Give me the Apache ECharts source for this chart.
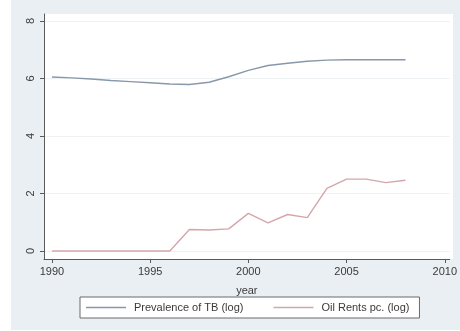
<!DOCTYPE html>
<html>
<head>
<meta charset="utf-8">
<script src="https://cdn.jsdelivr.net/npm/echarts@6/dist/echarts.min.js"></script>
<style>
  html, body { margin: 0; padding: 0; background: #ffffff; }
  #chart { width: 460px; height: 331px; }
</style>
</head>
<body>
<div id="chart"></div>
<script>
// Years of observation
const years = [1990, 1991, 1992, 1993, 1994, 1995, 1996, 1997, 1998, 1999,
               2000, 2001, 2002, 2003, 2004, 2005, 2006, 2007, 2008];
// Prevalence of TB (log)
const tbPrevalence = [6.05, 6.02, 5.98, 5.93, 5.89, 5.85, 5.81, 5.79, 5.87, 6.06,
                      6.28, 6.45, 6.53, 6.60, 6.64, 6.65, 6.65, 6.65, 6.65];
// Oil rents per capita (log)
const oilRents = [0, 0, 0, 0, 0, 0, 0, 0.75, 0.73, 0.77,
                  1.31, 0.98, 1.27, 1.16, 2.18, 2.50, 2.50, 2.38, 2.46];
// Axis ticks
const xTicks = [1990, 1995, 2000, 2005, 2010];
const yTicks = [0, 2, 4, 6, 8];
const seriesNames = ['Prevalence of TB (log)', 'Oil Rents pc. (log)'];

const pairs = (vals) => years.map((y, i) => [y, vals[i]]);
const textColor = '#3a3a3a';
const axisColor = '#5a5a5a';
const tbColor = '#8898aa';
const oilColor = '#d4a6aa';

const chart = echarts.init(document.getElementById('chart'), null, { renderer: 'canvas' });
chart.setOption({
  backgroundColor: '#ffffff',
  animation: false,
  graphic: [{
    type: 'rect',
    z: -10,
    silent: true,
    shape: { x: 11, y: 0, width: 449, height: 330 },
    style: { fill: '#e9eff3' }
  }, {
    type: 'rect',
    z: -9,
    silent: true,
    shape: { x: 44, y: 14, width: 409, height: 245 },
    style: { fill: '#ffffff' }
  }],
  grid: { left: 44, top: 14, width: 409, height: 245, containLabel: false },
  xAxis: {
    type: 'value',
    min: 1989.596,
    max: 2010.25,
    name: 'year',
    nameLocation: 'middle',
    nameGap: 26,
    nameTextStyle: { color: textColor, fontSize: 11, fontFamily: 'Liberation Sans, Arial, sans-serif' },
    axisLine: { show: true, onZero: false, lineStyle: { color: axisColor, width: 1 } },
    axisTick: { show: true, length: 4, customValues: xTicks, lineStyle: { color: axisColor } },
    axisLabel: {
      customValues: xTicks, margin: 7, color: textColor, fontSize: 11,
      fontFamily: 'Liberation Sans, Arial, sans-serif',
      formatter: (v) => String(v)
    },
    splitLine: { show: false }
  },
  yAxis: {
    type: 'value',
    min: -0.278,
    max: 8.243,
    axisLine: { show: true, onZero: false, lineStyle: { color: axisColor, width: 1 } },
    axisTick: { show: true, length: 4, customValues: yTicks, lineStyle: { color: axisColor } },
    axisLabel: {
      customValues: yTicks, rotate: 90, margin: 8, color: textColor, fontSize: 11,
      fontFamily: 'Liberation Sans, Arial, sans-serif'
    },
    splitLine: { show: false }
  },
  legend: {
    left: 80,
    top: 297,
    orient: 'horizontal',
    backgroundColor: '#ffffff',
    borderColor: '#6a6a6a',
    borderWidth: 1,
    padding: [5, 10, 5, 6],
    icon: 'rect',
    itemWidth: 40,
    itemHeight: 1.3,
    itemGap: 30,
    data: seriesNames,
    textStyle: {
      color: textColor, fontSize: 11, padding: [0, 0, 0, 3],
      fontFamily: 'Liberation Sans, Arial, sans-serif'
    }
  },
  series: [{
    name: seriesNames[0],
    type: 'line',
    data: pairs(tbPrevalence),
    symbol: 'none',
    lineStyle: { color: tbColor, width: 1.4 },
    itemStyle: { color: tbColor },
    markLine: {
      silent: true,
      symbol: 'none',
      label: { show: false },
      lineStyle: { color: '#eef2f5', width: 1, type: 'solid' },
      data: yTicks.map((v) => ({ yAxis: v })),
      z: 0
    },
    z: 3
  }, {
    name: seriesNames[1],
    type: 'line',
    data: pairs(oilRents),
    symbol: 'none',
    lineStyle: { color: oilColor, width: 1.4 },
    itemStyle: { color: oilColor },
    z: 3
  }]
});
</script>
</body>
</html>
